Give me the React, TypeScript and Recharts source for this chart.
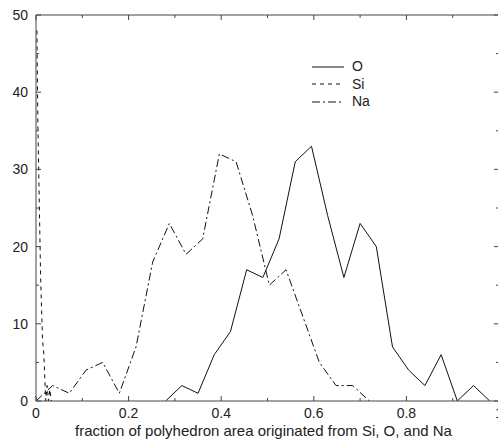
import React from 'react';
import { LineChart, Line, XAxis, YAxis } from 'recharts';

// O histogram (solid)
const oX = [0.28, 0.315, 0.35, 0.385, 0.42, 0.455, 0.49, 0.525, 0.56, 0.595, 0.63, 0.665, 0.7, 0.735, 0.77, 0.805, 0.84, 0.875, 0.91, 0.945, 0.98];
const oY = [0, 2, 1, 6, 9, 17, 16, 21, 31, 33, 24, 16, 23, 20, 7, 4, 2, 6, 0, 2, 0];

// Si histogram (dashed spike near 0)
const siX = [0.002, 0.004, 0.01, 0.014, 0.017, 0.021, 0.024, 0.027, 0.03, 0.033];
const siY = [48, 36, 16, 8, 6, 0, 2, 0, 1.5, 0];

// Na histogram (dash-dot)
const naX = [0, 0.036, 0.072, 0.108, 0.144, 0.18, 0.216, 0.252, 0.288, 0.324, 0.36, 0.396, 0.432, 0.468, 0.504, 0.54, 0.576, 0.612, 0.648, 0.684, 0.72];
const naY = [0, 2, 1, 4, 5, 1, 7, 18, 23, 19, 21, 32, 31, 24, 15, 17, 11, 5, 2, 2, 0];

const xTicks = [0, 0.1, 0.2, 0.3, 0.4, 0.5, 0.6, 0.7, 0.8, 0.9, 1];
const xTickLabels = ['0', '', '0.2', '', '0.4', '', '0.6', '', '0.8', '', '1'];
const yTicks = [0, 5, 10, 15, 20, 25, 30, 35, 40, 45, 50];
const yTickLabels = ['0', '', '10', '', '20', '', '30', '', '40', '', '50'];

const seriesNames = ['O', 'Si', 'Na'];
const seriesDash = ['', '4 4', '8 3 2 3'];

const toPoints = (xs: number[], ys: number[]) => xs.map((x, i) => ({ x, y: ys[i] }));

const FONT = '"Liberation Sans", Arial, sans-serif';
const INK = '#222';
const AXIS = '#444';

const BottomTick = (props: any) => {
  const { x, y, index } = props;
  const label = xTickLabels[index];
  const len = label ? 5 : 3;
  return (
    <g>
      <line x1={x} x2={x} y1={y} y2={y - len} stroke={AXIS} />
      {label ? (
        <text x={x} y={y + 17} textAnchor="middle" fontSize={14} fontFamily={FONT} fill={INK}>
          {label}
        </text>
      ) : null}
    </g>
  );
};

const TopTick = (props: any) => {
  const { x, y, index } = props;
  const len = xTickLabels[index] ? 5 : 3;
  return <line x1={x} x2={x} y1={y} y2={y + len} stroke={AXIS} />;
};

const LeftTick = (props: any) => {
  const { x, y, index } = props;
  const label = yTickLabels[index];
  const len = label ? 5 : 3;
  return (
    <g>
      <line x1={x} x2={x + len} y1={y} y2={y} stroke={AXIS} />
      {label ? (
        <text x={x - 8} y={y + 5} textAnchor="end" fontSize={14} fontFamily={FONT} fill={INK}>
          {label}
        </text>
      ) : null}
    </g>
  );
};

const RightTick = (props: any) => {
  const { x, y, index } = props;
  const len = yTickLabels[index] ? 5 : 3;
  return <line x1={x} x2={x - len} y1={y} y2={y} stroke={AXIS} />;
};

const LegendBox = () => (
  <div style={{ position: 'absolute', left: 312, top: 58, fontFamily: FONT, fontSize: 14, color: INK }}>
    {seriesNames.map((name, i) => (
      <div key={name} style={{ display: 'flex', alignItems: 'center', height: 17.5 }}>
        <svg width={32} height={10} style={{ display: 'block' }}>
          <line x1={0} x2={32} y1={5} y2={5} stroke="#111" strokeWidth={1} strokeDasharray={seriesDash[i] || undefined} />
        </svg>
        <span style={{ marginLeft: 8, lineHeight: '17px' }}>{name}</span>
      </div>
    ))}
  </div>
);

export default function App() {
  const oData = toPoints(oX, oY);
  const siData = toPoints(siX, siY);
  const naData = toPoints(naX, naY);

  return (
    <div style={{ position: 'absolute', left: 0, top: 0, width: 498, height: 447, overflow: 'hidden', background: '#fff' }}>
      <LineChart width={509} height={447} margin={{ top: 5, right: 0, bottom: 0, left: 0 }}>
        <XAxis
          xAxisId="bottom"
          dataKey="x"
          type="number"
          domain={[0, 1]}
          ticks={xTicks}
          interval={0}
          height={46}
          tickSize={0}
          tickMargin={0}
          tickLine={false}
          tick={BottomTick}
          axisLine={{ stroke: AXIS }}
          allowDataOverflow
          label={{
            value: 'fraction of polyhedron area originated from Si, O, and Na',
            position: 'insideBottom',
            offset: 11,
            dx: -4,
            fontSize: 15,
            fontFamily: FONT,
            fill: INK,
          }}
        />
        <XAxis
          xAxisId="top"
          orientation="top"
          dataKey="x"
          type="number"
          domain={[0, 1]}
          ticks={xTicks}
          interval={0}
          height={10}
          tickSize={0}
          tickMargin={0}
          tickLine={false}
          tick={TopTick}
          axisLine={{ stroke: AXIS }}
          allowDataOverflow
        />
        <YAxis
          yAxisId="left"
          type="number"
          domain={[0, 50]}
          ticks={yTicks}
          interval={0}
          width={36}
          tickSize={0}
          tickMargin={0}
          tickLine={false}
          tick={LeftTick}
          axisLine={{ stroke: AXIS }}
          allowDataOverflow
        />
        <YAxis
          yAxisId="right"
          orientation="right"
          type="number"
          domain={[0, 50]}
          ticks={yTicks}
          interval={0}
          width={10}
          tickSize={0}
          tickMargin={0}
          tickLine={false}
          tick={RightTick}
          axisLine={{ stroke: AXIS }}
          allowDataOverflow
        />
        <Line
          xAxisId="top"
          yAxisId="right"
          data={oData}
          dataKey="y"
          name="O"
          type="linear"
          stroke="#111"
          strokeWidth={1}
          dot={false}
          activeDot={false}
          isAnimationActive={false}
        />
        <Line
          xAxisId="bottom"
          yAxisId="left"
          data={siData}
          dataKey="y"
          name="Si"
          type="linear"
          stroke="#111"
          strokeWidth={1}
          strokeDasharray="4 4"
          dot={false}
          activeDot={false}
          isAnimationActive={false}
        />
        <Line
          xAxisId="bottom"
          yAxisId="left"
          data={naData}
          dataKey="y"
          name="Na"
          type="linear"
          stroke="#111"
          strokeWidth={1}
          strokeDasharray="8 3 2 3"
          dot={false}
          activeDot={false}
          isAnimationActive={false}
        />
      </LineChart>
      <LegendBox />
    </div>
  );
}
